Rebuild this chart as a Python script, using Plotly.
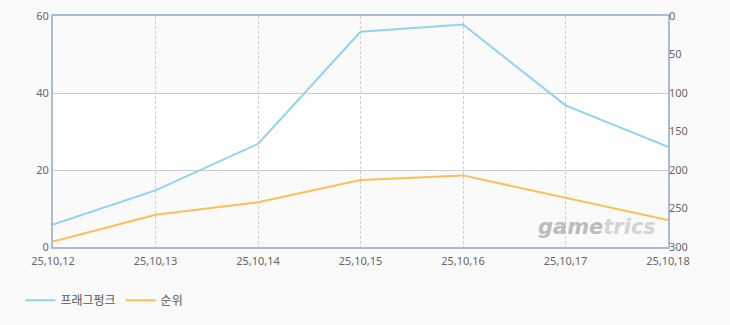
import plotly.graph_objects as go

dates = ["25,10,12", "25,10,13", "25,10,14", "25,10,15", "25,10,16", "25,10,17", "25,10,18"]
fragpunk = [5.8, 14.7, 26.8, 55.9, 57.8, 36.8, 26.0]
rank = [293, 258, 242, 213, 207, 236, 265]

left_ticks = [0, 20, 40, 60]
right_ticks = [0, 50, 100, 150, 200, 250, 300]

FONT = "Noto Sans CJK KR, DejaVu Sans, sans-serif"
TICKFONT = dict(family="Noto Sans, DejaVu Sans, sans-serif", size=11, color="#666666")
BLUE = "#8fd3f3"
ORANGE = "#ffbd59"

fig = go.Figure()
fig.add_trace(go.Scatter(x=dates, y=fragpunk, name="프래그펑크", mode="lines",
                         line=dict(color=BLUE, width=2), yaxis="y"))
fig.add_trace(go.Scatter(x=dates, y=rank, name="순위", mode="lines",
                         line=dict(color=ORANGE, width=2), yaxis="y2"))

# alternating bands
for y0, y1, c in [(0, 20, "#fafafa"), (20, 40, "#ffffff"), (40, 60, "#fafafa")]:
    fig.add_shape(type="rect", xref="paper", yref="y", x0=0, x1=1, y0=y0, y1=y1,
                  fillcolor=c, line_width=0, layer="below")

fig.add_annotation(text="<b><i>game<span style='color:#d4d4d4'>trics</span></i></b>",
                   xref="paper", yref="paper",
                   x=0.983, y=0.085, xanchor="right", yanchor="middle", showarrow=False,
                   font=dict(family="DejaVu Sans, sans-serif", size=21, color="#bcbcbc"))

fig.update_layout(
    width=730, height=325,
    margin=dict(l=53, r=62, t=16, b=77),
    paper_bgcolor="#fafafa",
    plot_bgcolor="#ffffff",
    font=dict(family=FONT, size=11, color="#666666"),
    showlegend=True,
    legend=dict(orientation="h", x=-0.053, y=-0.225, xanchor="left", yanchor="middle",
                font=dict(size=12, color="#555555"), itemwidth=30, bgcolor="rgba(0,0,0,0)"),
    xaxis=dict(type="category", range=[0, 6], showgrid=True, gridcolor="#cfcfcf",
               griddash="3px,2px", gridwidth=1, showline=True, linecolor="#a9bcd2", linewidth=2,
               mirror=True, ticks="", tickfont=TICKFONT, zeroline=False,
               automargin=False, ticklabelstandoff=3),
    yaxis=dict(range=[0, 60], tickvals=left_ticks, showgrid=True, gridcolor="#cccccc",
               gridwidth=1, showline=True, linecolor="#a9bcd2", linewidth=2, mirror=True,
               ticks="", zeroline=False, tickfont=TICKFONT, automargin=False),
    yaxis2=dict(range=[300, 0], tickvals=right_ticks, overlaying="y", side="right",
                showgrid=False, zeroline=False, showline=False, ticks="",
                tickfont=TICKFONT, automargin=False),
)

fig.write_html("out.html")
